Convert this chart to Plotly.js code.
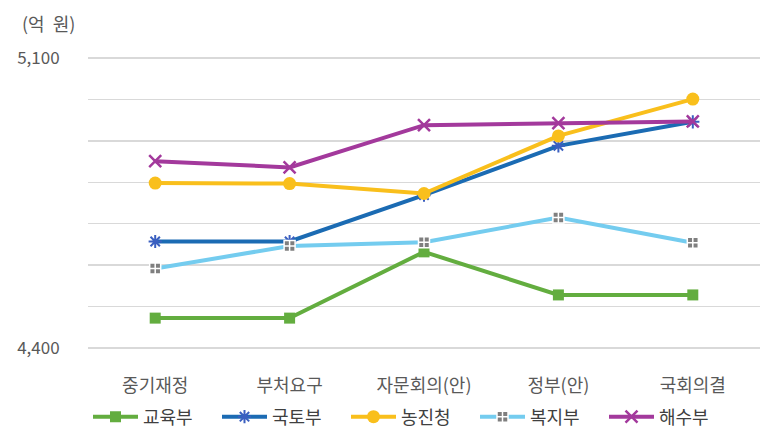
<!DOCTYPE html>
<html>
<head>
<meta charset="utf-8">
<script src="https://cdn.plot.ly/plotly-3.0.1.min.js"></script>
<style>html,body{margin:0;padding:0;background:#fff;}#chart{width:771px;height:448px;}</style>
</head>
<body>
<div id="chart"></div>
<script>
const categories = ['중기재정', '부처요구', '자문회의(안)', '정부(안)', '국회의결'];
const seriesNames = ['교육부', '국토부', '농진청', '복지부', '해수부'];
const edu = [4472, 4472, 4632, 4528, 4528];
const land = [4657, 4657, 4769, 4888, 4946];
const rda = [4798, 4797, 4773, 4912, 5001];
const welfare = [4592, 4646, 4655, 4715, 4654];
const ocean = [4851, 4836, 4938, 4943, 4947];
const yTickVals = [4400, 4500, 4600, 4700, 4800, 4900, 5000, 5100];
const yTickText = ['4,400', '', '', '', '', '', '', '5,100'];
const unitLabel = '(억\u00a0\u00a0원)';

const FONT = '"Noto Sans CJK KR", "Noto Sans", sans-serif';
const traces = [
  {y: edu, name: seriesNames[0], color: '#63ad3f', marker: {symbol: 'square', size: 11, color: '#63ad3f'}},
  {y: land, name: seriesNames[1], color: '#1b6bb3', marker: {symbol: 'asterisk-open', size: 11, color: '#3a5fc0', line: {width: 2, color: '#3a5fc0'}}},
  {y: rda, name: seriesNames[2], color: '#f9bf1c', marker: {symbol: 'circle', size: 13, color: '#f9bf1c'}},
  {y: welfare, name: seriesNames[3], color: '#74ccef', marker: {symbol: 'square-cross', size: 11, color: '#7f7f7f', line: {width: 1.5, color: '#ffffff'}}},
  {y: ocean, name: seriesNames[4], color: '#a3399c', marker: {symbol: 'x-thin-open', size: 12, color: '#a3399c', line: {width: 2.5, color: '#a3399c'}}}
].map(t => ({
  type: 'scatter', mode: 'lines+markers', x: categories, y: t.y, name: t.name,
  line: {color: t.color, width: 4}, marker: t.marker
}));

const layout = {
  width: 771, height: 448,
  margin: {l: 88, r: 11, t: 56, b: 98},
  paper_bgcolor: '#ffffff', plot_bgcolor: '#ffffff',
  font: {family: FONT, size: 17, color: '#595959'},
  showlegend: true,
  legend: {
    orientation: 'h', x: 0, xanchor: 'left', y: 1 - 417 / 448, yref: 'container', yanchor: 'middle',
    font: {family: FONT, size: 18, color: '#404040'}, itemwidth: 45,
    entrywidth: 69, entrywidthmode: 'pixels', traceorder: 'normal'
  },
  xaxis: {
    type: 'category', range: [-0.5, 4.5], showgrid: false, zeroline: false, showline: false,
    ticks: 'outside', ticklen: 19, tickcolor: 'rgba(0,0,0,0)',
    tickfont: {family: FONT, size: 18, color: '#595959'}, fixedrange: true
  },
  yaxis: {
    range: [4395, 5105], tickmode: 'array', tickvals: yTickVals, ticktext: yTickText,
    showgrid: true, gridcolor: '#d9d9d9', gridwidth: 1.5, zeroline: false, showline: false,
    ticks: 'outside', ticklen: 24, tickcolor: 'rgba(0,0,0,0)',
    tickfont: {family: FONT, size: 17, color: '#595959'}, fixedrange: true
  },
  annotations: [{
    text: unitLabel, xref: 'paper', yref: 'paper', x: -88 / 672, y: 1 + 33 / 294,
    xanchor: 'left', yanchor: 'middle', showarrow: false, xshift: 20,
    font: {family: FONT, size: 18, color: '#595959'}
  }]
};

Plotly.newPlot('chart', traces, layout, {displayModeBar: false, staticPlot: true});
</script>
</body>
</html>
